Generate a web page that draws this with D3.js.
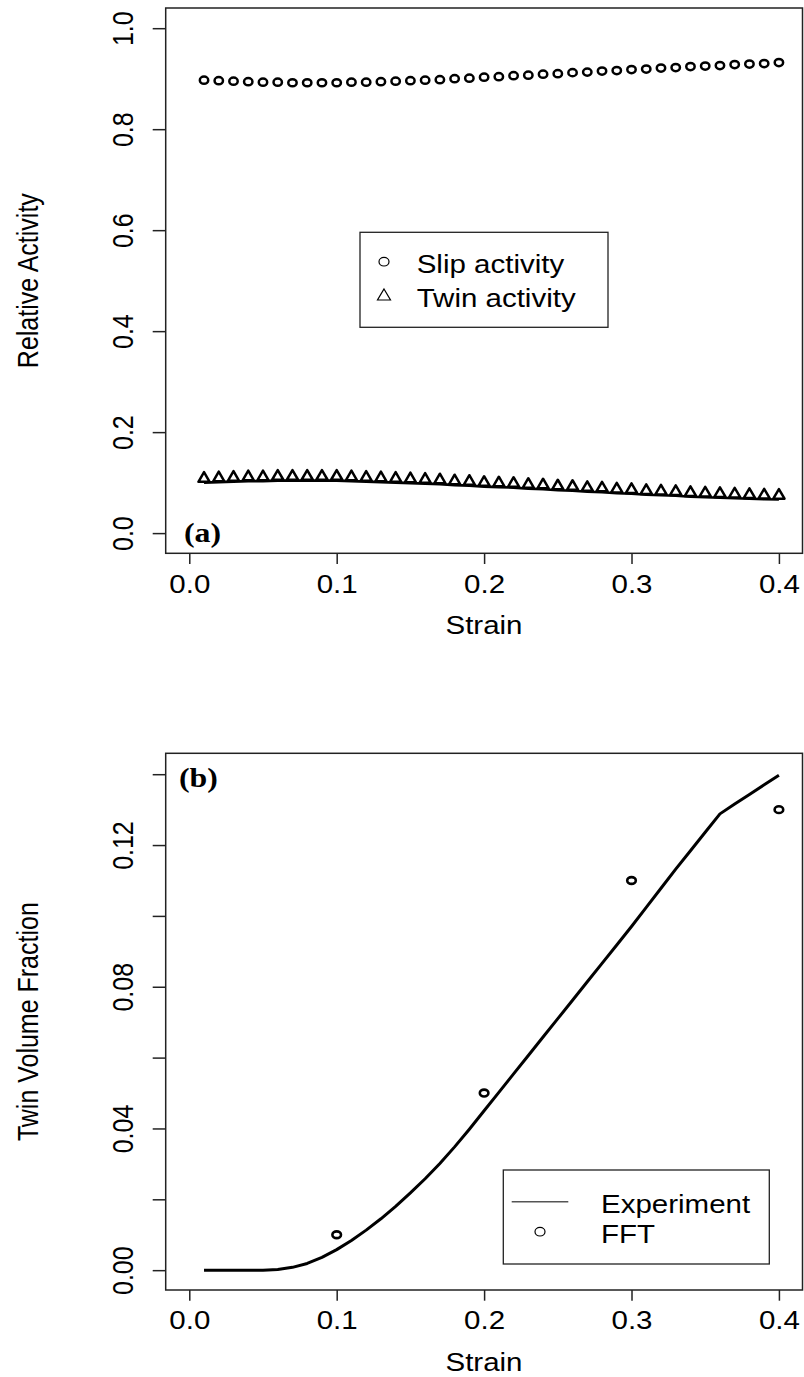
<!DOCTYPE html>
<html>
<head>
<meta charset="utf-8">
<script src="https://cdn.jsdelivr.net/npm/d3@7"></script>
<style>
  html, body { margin: 0; padding: 0; background: #fff; }
  svg { display: block; }
  text { font-family: "Liberation Sans", Arial, Helvetica, sans-serif; fill: #000; }
</style>
</head>
<body>
<svg id="chart" width="804" height="1377"></svg>
<script>
// ---- data -----------------------------------------------------------------
const strain = [0.01,0.02,0.03,0.04,0.05,0.06,0.07,0.08,0.09,0.10,
                0.11,0.12,0.13,0.14,0.15,0.16,0.17,0.18,0.19,0.20,
                0.21,0.22,0.23,0.24,0.25,0.26,0.27,0.28,0.29,0.30,
                0.31,0.32,0.33,0.34,0.35,0.36,0.37,0.38,0.39,0.40];

// panel (a): relative activity of slip and twinning
const slipActivity = [0.897,0.896,0.895,0.894,0.893,0.893,0.892,0.892,0.892,0.892,
                      0.893,0.893,0.894,0.895,0.896,0.897,0.898,0.900,0.901,0.903,
                      0.904,0.906,0.907,0.909,0.910,0.912,0.913,0.915,0.916,0.918,
                      0.919,0.921,0.922,0.924,0.925,0.926,0.928,0.929,0.930,0.932];
const twinActivity = [0.108,0.109,0.110,0.111,0.111,0.112,0.112,0.112,0.112,0.112,
                      0.111,0.110,0.109,0.108,0.107,0.106,0.105,0.103,0.102,0.100,
                      0.099,0.098,0.096,0.095,0.093,0.092,0.090,0.089,0.087,0.086,
                      0.084,0.083,0.082,0.080,0.079,0.078,0.077,0.076,0.075,0.0745];
const twinActivityCurve = [0.100,0.101,0.102,0.103,0.103,0.104,0.104,0.104,0.104,0.104,
                           0.103,0.102,0.101,0.100,0.099,0.098,0.097,0.095,0.094,0.092,
                           0.091,0.090,0.088,0.087,0.085,0.084,0.082,0.081,0.079,0.078,
                           0.076,0.075,0.074,0.072,0.071,0.070,0.069,0.068,0.067,0.0665];

// panel (b): twin volume fraction
const experimentTVF = [0,0,0,0,0,0.0002,0.0008,0.0019,0.0036,0.0058,
                       0.0084,0.0113,0.0145,0.0180,0.0218,0.0258,0.0301,0.0348,0.0398,0.0450,
                       0.0502,0.0554,0.0606,0.0658,0.0710,0.0762,0.0814,0.0866,0.0918,0.0970,
                       0.1024,0.1078,0.1132,0.1184,0.1236,0.1288,0.1316,0.1343,0.1370,0.1397];
const fftStrain = [0.1, 0.2, 0.3, 0.4];
const fftTVF    = [0.010, 0.050, 0.110, 0.130];

// tick values
const xTicks  = [0.0, 0.1, 0.2, 0.3, 0.4];
const yTicksA = [0.0, 0.2, 0.4, 0.6, 0.8, 1.0];
const yTicksB = [0.00, 0.02, 0.04, 0.06, 0.08, 0.10, 0.12, 0.14];
const yLabelsB = [0.00, 0.04, 0.08, 0.12];

// ---- drawing --------------------------------------------------------------
const SX = 1.18;          // horizontal glyph stretch of the output
const FONT = 25;
const svg = d3.select("#chart");

function label(g, x, y, str, opts = {}) {
  const t = g.append("text")
    .attr("transform", `translate(${x},${y}) scale(${SX},1)` + (opts.rotate ? " rotate(-90)" : ""))
    .attr("text-anchor", opts.anchor || "middle")
    .attr("font-size", opts.size || FONT)
    .text(str);
  if (opts.bold) t.attr("font-weight", "bold");
  if (opts.family) t.style("font-family", opts.family);
  return t;
}

// marker paths (shapes only, positioned with transforms)
const triPath = "M0,-6.4 L5.6,3.2 L-5.6,3.2 Z";

function panel(cfg) {
  const x = d3.scaleLinear().domain([-0.016, 0.416]).range([165.7, 802.5]);
  const y = d3.scaleLinear().domain(cfg.yDomain).range([cfg.bottom, cfg.top]);
  const g = svg.append("g");

  // frame
  g.append("rect")
    .attr("x", x.range()[0]).attr("y", cfg.top)
    .attr("width", x.range()[1] - x.range()[0])
    .attr("height", cfg.bottom - cfg.top)
    .attr("fill", "none").attr("stroke", "#222").attr("stroke-width", 1.5);

  // x axis
  const ax = g.append("g").attr("transform", `translate(0,${cfg.bottom})`)
    .call(d3.axisBottom(x).tickValues(xTicks).tickSize(10.7).tickSizeOuter(0)
      .tickFormat(d3.format(".1f")));
  ax.select(".domain").remove();
  ax.selectAll(".tick line").attr("stroke", "#222").attr("stroke-width", 1.5);
  ax.selectAll(".tick text")
    .attr("y", null).attr("dy", null)
    .attr("font-size", FONT)
    .attr("transform", `translate(0,39.4) scale(${SX},1)`);

  // y axis
  const ay = g.append("g").attr("transform", `translate(${x.range()[0]},0)`)
    .call(d3.axisLeft(y).tickValues(cfg.yTicks).tickSize(13).tickSizeOuter(0)
      .tickFormat(d => cfg.yLabels.some(v => Math.abs(v - d) < 1e-9) ? cfg.yFormat(d) : ""));
  ay.select(".domain").remove();
  ay.selectAll(".tick line").attr("stroke", "#222").attr("stroke-width", 1.5);
  ay.selectAll(".tick text")
    .attr("x", null).attr("dy", null)
    .attr("text-anchor", "middle")
    .attr("font-size", FONT)
    .attr("transform", `translate(-32.5,0) scale(${SX},1) rotate(-90)`);
  d3.selectAll(".tick text").style("font-family", "'Liberation Sans', Arial, sans-serif").attr("fill", "#000");

  // axis titles
  label(g, 484, cfg.bottom + 80.7, "Strain");
  label(g, 38, (cfg.top + cfg.bottom) / 2, cfg.yTitle, { rotate: true });

  return { g, x, y };
}

// ---------------- panel (a) ----------------
const A = panel({
  top: 8, bottom: 553.3, yDomain: [-0.04, 1.04],
  yTicks: yTicksA, yLabels: yTicksA, yFormat: d3.format(".1f"),
  yTitle: "Relative Activity"
});

A.g.append("path")
  .datum(strain.map((s, i) => [s, twinActivityCurve[i]]))
  .attr("fill", "none").attr("stroke", "#000").attr("stroke-width", 2.6)
  .attr("d", d3.line().x(d => A.x(d[0])).y(d => A.y(d[1])));

A.g.selectAll(".twin").data(strain.map((s, i) => [s, twinActivity[i]]))
  .join("path")
  .attr("transform", d => `translate(${A.x(d[0])},${A.y(d[1])})`)
  .attr("d", triPath)
  .attr("fill", "none").attr("stroke", "#000").attr("stroke-width", 2.5)
  .attr("stroke-linejoin", "round");

A.g.selectAll(".slip").data(strain.map((s, i) => [s, slipActivity[i]]))
  .join("ellipse")
  .attr("cx", d => A.x(d[0])).attr("cy", d => A.y(d[1]))
  .attr("rx", 4.2).attr("ry", 3.6)
  .attr("fill", "none").attr("stroke", "#000").attr("stroke-width", 2.5);

label(A.g, 184, 542, "(a)", { anchor: "start", bold: true, size: 27, family: "'Liberation Serif', 'Times New Roman', serif" });

// legend (a)
const legA = A.g.append("g");
legA.append("rect").attr("x", 360).attr("y", 232.3).attr("width", 248).attr("height", 95)
  .attr("fill", "#fff").attr("stroke", "#222").attr("stroke-width", 1.3);
legA.append("ellipse").attr("cx", 384).attr("cy", 261.7).attr("rx", 5).attr("ry", 4.3)
  .attr("fill", "none").attr("stroke", "#000").attr("stroke-width", 1.2);
legA.append("path").attr("transform", "translate(384,296)").attr("d", "M0,-7 L6.5,4 L-6.5,4 Z")
  .attr("fill", "none").attr("stroke", "#000").attr("stroke-width", 1.2);
label(legA, 416.7, 273.3, "Slip activity", { anchor: "start" });
label(legA, 416.7, 307.3, "Twin activity", { anchor: "start" });

// ---------------- panel (b) ----------------
const B = panel({
  top: 753.3, bottom: 1290, yDomain: [-0.0056, 0.1459],
  yTicks: yTicksB, yLabels: yLabelsB, yFormat: d3.format(".2f"),
  yTitle: "Twin Volume Fraction"
});

B.g.append("path")
  .datum(strain.map((s, i) => [s, experimentTVF[i]]))
  .attr("fill", "none").attr("stroke", "#000").attr("stroke-width", 3)
  .attr("stroke-linejoin", "round")
  .attr("d", d3.line().x(d => B.x(d[0])).y(d => B.y(d[1])));

B.g.selectAll(".fft").data(fftStrain.map((s, i) => [s, fftTVF[i]]))
  .join("ellipse")
  .attr("cx", d => B.x(d[0])).attr("cy", d => B.y(d[1]))
  .attr("rx", 4.3).attr("ry", 3.4)
  .attr("fill", "none").attr("stroke", "#000").attr("stroke-width", 2.6);

label(B.g, 179, 787, "(b)", { anchor: "start", bold: true, size: 27, family: "'Liberation Serif', 'Times New Roman', serif" });

// legend (b)
const legB = B.g.append("g");
legB.append("rect").attr("x", 503.3).attr("y", 1170).attr("width", 266).attr("height", 94)
  .attr("fill", "#fff").attr("stroke", "#222").attr("stroke-width", 1.3);
legB.append("line").attr("x1", 511.7).attr("x2", 568.3).attr("y1", 1201.7).attr("y2", 1201.7)
  .attr("stroke", "#555").attr("stroke-width", 1.5);
legB.append("ellipse").attr("cx", 540).attr("cy", 1231.7).attr("rx", 5).attr("ry", 4.3)
  .attr("fill", "none").attr("stroke", "#000").attr("stroke-width", 1.2);
label(legB, 601, 1213.3, "Experiment", { anchor: "start" });
label(legB, 601, 1243.3, "FFT", { anchor: "start" });
</script>
</body>
</html>
